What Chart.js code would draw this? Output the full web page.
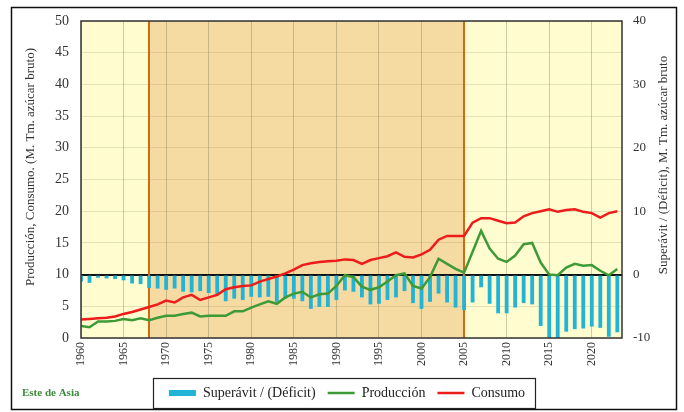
<!DOCTYPE html>
<html>
<head>
<meta charset="utf-8">
<script src="https://cdn.jsdelivr.net/npm/chart.js@4"></script>
<style>
  html, body { margin: 0; padding: 0; background: #fff; }
  canvas { display: block; }
</style>
</head>
<body>
<canvas id="sugar-chart" width="684" height="412"></canvas>
<script>
'use strict';

//  DATA (M. Tm. azucar bruto)
let years = [
  1960, 1961, 1962, 1963, 1964, 1965, 1966, 1967, 1968, 1969,
  1970, 1971, 1972, 1973, 1974, 1975, 1976, 1977, 1978, 1979,
  1980, 1981, 1982, 1983, 1984, 1985, 1986, 1987, 1988, 1989,
  1990, 1991, 1992, 1993, 1994, 1995, 1996, 1997, 1998, 1999,
  2000, 2001, 2002, 2003, 2004, 2005, 2006, 2007, 2008, 2009,
  2010, 2011, 2012, 2013, 2014, 2015, 2016, 2017, 2018, 2019,
  2020, 2021, 2022, 2023
];

let produccion = [
  1.9, 1.7, 2.6, 2.6, 2.7, 3.0, 2.8, 3.1, 2.8, 3.2,
  3.5, 3.5, 3.8, 4.0, 3.4, 3.5, 3.5, 3.5, 4.2, 4.2,
  4.8, 5.3, 5.8, 5.4, 6.4, 7.0, 7.3, 6.4, 6.9, 7.0,
  8.2, 9.9, 9.6, 8.1, 7.6, 8.0, 8.9, 9.9, 10.2, 8.2,
  7.8, 9.6, 12.5, 11.7, 10.9, 10.3, 13.6, 16.9, 14.1, 12.5,
  12.0, 13.0, 14.8, 15.0, 11.9, 10.0, 9.9, 11.1, 11.7, 11.4,
  11.5, 10.6, 9.9, 10.9
];

let consumo = [
  2.9, 3.0, 3.1, 3.2, 3.4, 3.8, 4.1, 4.5, 4.9, 5.3,
  5.9, 5.6, 6.4, 6.8, 6.0, 6.4, 6.8, 7.7, 8.0, 8.2,
  8.3, 8.9, 9.3, 9.7, 10.2, 10.8, 11.5, 11.8, 12.0, 12.1,
  12.2, 12.4, 12.3, 11.7, 12.3, 12.6, 12.9, 13.5, 12.8, 12.7,
  13.2, 13.9, 15.5, 16.1, 16.1, 16.1, 18.2, 18.9, 18.9, 18.5,
  18.1, 18.2, 19.2, 19.7, 20.0, 20.3, 19.9, 20.2, 20.3, 19.9,
  19.7, 19.0, 19.7, 20.0
];

let superavit = [
  -1.1, -1.3, -0.5, -0.6, -0.7, -0.9, -1.4, -1.5, -2.1, -2.2,
  -2.4, -2.2, -2.7, -2.8, -2.6, -2.9, -3.3, -4.2, -3.8, -4.0,
  -3.5, -3.6, -3.5, -4.3, -3.8, -3.8, -4.2, -5.4, -5.1, -5.1,
  -4.0, -2.5, -2.7, -3.6, -4.7, -4.6, -4.0, -3.6, -2.6, -4.5,
  -5.4, -4.3, -3.0, -4.4, -5.2, -5.6, -4.4, -2.0, -4.6, -6.1,
  -6.1, -5.2, -4.5, -4.7, -8.1, -10.3, -10.0, -9.0, -8.6, -8.5,
  -8.2, -8.4, -9.8, -9.1
];

// SHADED PERIOD
let periodStart = 1968;
let periodEnd = 2005;

// TEXTS
let regionLabel = 'Este de Asia';
let leftTitle = 'Producción, Consumo. (M. Tm. azúcar bruto)';
let rightTitle = 'Superávit / (Déficit), M. Tm. azúcar bruto';

// COLOURS
let paleYellow = '#FFFCCF';
let tan = '#F5DBA2';
let orangeLine = '#D06A10';
let barColor = '#22B4D6';
let greenLine = '#3D9A37';
let redLine = '#EE1B1B';

let serif = '"Liberation Serif", "Times New Roman", serif';

// PLUGIN FOR BACKGROUND BANDS, FRAME, LEGEND BOX, AXIS TITLES
let decorPlugin = {
  id: 'decor',
  beforeDraw(chart) {
    let ctx = chart.ctx;
    let a = chart.chartArea;
    let x = chart.scales.x;
    ctx.save();
    ctx.fillStyle = '#fff';
    ctx.fillRect(0, 0, chart.width, chart.height);
    ctx.fillStyle = paleYellow;
    ctx.fillRect(a.left, a.top, a.right - a.left, a.bottom - a.top);
    let x1 = x.getPixelForValue(periodStart);
    let x2 = x.getPixelForValue(periodEnd);
    ctx.fillStyle = tan;
    ctx.fillRect(x1, a.top, x2 - x1, a.bottom - a.top);
    ctx.restore();
  },
  beforeDatasetsDraw(chart) {
    let ctx = chart.ctx;
    let a = chart.chartArea;
    let x = chart.scales.x;
    ctx.save();
    ctx.strokeStyle = orangeLine;
    ctx.lineWidth = 2;
    [periodStart, periodEnd].forEach(function (yr) {
      let px = Math.round(x.getPixelForValue(yr));
      ctx.beginPath();
      ctx.moveTo(px, a.top);
      ctx.lineTo(px, a.bottom);
      ctx.stroke();
    });
    ctx.restore();
  },
  afterDraw(chart) {
    let ctx = chart.ctx;
    let a = chart.chartArea;
    ctx.save();
    // plot border
    ctx.strokeStyle = '#333';
    ctx.lineWidth = 1.5;
    ctx.strokeRect(a.left, a.top, a.right - a.left, a.bottom - a.top);
    // outer frame
    ctx.strokeStyle = '#111';
    ctx.lineWidth = 1.5;
    ctx.strokeRect(11.5, 7.5, 665, 402);
    // legend box
    let boxes = chart.legend.legendHitBoxes;
    if (boxes && boxes.length) {
      let left = Math.min.apply(null, boxes.map(b => b.left)) - 16;
      let right = Math.max.apply(null, boxes.map(b => b.left + b.width)) + 10;
      let top = boxes[0].top + boxes[0].height / 2 - 15;
      ctx.strokeStyle = '#222';
      ctx.lineWidth = 1.2;
      ctx.strokeRect(Math.round(left) + 0.5, Math.round(top) + 0.5, Math.round(right - left), 30);
    }
    // axis titles, both read bottom to top
    ctx.fillStyle = '#333';
    ctx.font = '13px ' + serif;
    ctx.textAlign = 'center';
    ctx.textBaseline = 'middle';
    let midY = 167;
    ctx.save();
    ctx.translate(31, midY);
    ctx.rotate(-Math.PI / 2);
    ctx.fillText(leftTitle, 0, 0);
    ctx.restore();
    ctx.save();
    ctx.translate(664, 165);
    ctx.rotate(-Math.PI / 2);
    ctx.fillText(rightTitle, 0, 0);
    ctx.restore();
    // region label
    ctx.fillStyle = '#3A8A3A';
    ctx.font = 'bold 11px ' + serif;
    ctx.textBaseline = 'middle';
    ctx.textAlign = 'left';
    ctx.fillText(regionLabel, 22, 393);
    ctx.restore();
  }
};

// CHART CONFIG
let chartConfig = {
  type: 'bar',
  data: {
    labels: years,
    datasets: [
      {
        type: 'bar',
        label: 'Superávit / (Déficit)',
        data: superavit,
        yAxisID: 'y2',
        backgroundColor: barColor,
        borderWidth: 0,
        barPercentage: 0.45,
        categoryPercentage: 1,
        order: 2
      },
      {
        type: 'line',
        label: 'Producción',
        data: produccion,
        yAxisID: 'y',
        borderColor: greenLine,
        backgroundColor: greenLine,
        borderWidth: 2.5,
        pointRadius: 0,
        tension: 0,
        order: 1
      },
      {
        type: 'line',
        label: 'Consumo',
        data: consumo,
        yAxisID: 'y',
        borderColor: redLine,
        backgroundColor: redLine,
        borderWidth: 2.5,
        pointRadius: 0,
        tension: 0,
        order: 0
      }
    ]
  },
  options: {
    responsive: false,
    devicePixelRatio: 1,
    animation: false,
    layout: {
      padding: { left: 20, right: 10, top: 21, bottom: 2 }
    },
    plugins: {
      tooltip: { enabled: false },
      legend: {
        position: 'bottom',
        labels: {
          usePointStyle: true,
          pointStyleWidth: 27,
          boxHeight: 6,
          padding: 12,
          color: '#222',
          font: { family: serif, size: 14 },
          sort: (a, b) => a.datasetIndex - b.datasetIndex,
          generateLabels(chart) {
            return chart.data.datasets.map(function (ds, i) {
              let isBar = ds.type === 'bar';
              return {
                text: ds.label,
                datasetIndex: i,
                fillStyle: isBar ? barColor : ds.borderColor,
                strokeStyle: isBar ? barColor : ds.borderColor,
                lineWidth: isBar ? 0 : 2.5,
                pointStyle: isBar ? 'rect' : 'line',
                fontColor: '#222',
                hidden: false
              };
            });
          }
        }
      }
    },
    scales: {
      x: {
        type: 'linear',
        min: 1960,
        max: 2023.55,
        offset: false,
        afterBuildTicks(scale) {
          scale.ticks = scale.ticks.filter(t => t.value % 5 === 0);
        },
        afterFit(scale) {
          scale.height = 36;
        },
        ticks: {
          stepSize: 5,
          autoSkip: false,
          minRotation: 90,
          maxRotation: 90,
          padding: 4,
          color: '#333',
          font: { family: serif, size: 12 },
          callback: value => String(value)
        },
        grid: {
          offset: false,
          drawTicks: false,
          color: 'rgba(120, 110, 80, 0.35)',
          lineWidth: 1
        },
        border: { display: false }
      },
      y: {
        position: 'left',
        min: 0,
        max: 50,
        afterFit(scale) {
          scale.width = 61;
        },
        ticks: {
          stepSize: 5,
          padding: 12,
          color: '#333',
          font: { family: serif, size: 14 }
        },
        grid: {
          drawTicks: false,
          color: 'rgba(140, 130, 90, 0.22)',
          lineWidth: 1
        },
        border: { display: false },
        title: { display: false }
      },
      y2: {
        position: 'right',
        min: -10,
        max: 40,
        afterFit(scale) {
          scale.width = 52;
        },
        ticks: {
          stepSize: 10,
          padding: 11,
          color: '#333',
          font: { family: serif, size: 13 }
        },
        grid: {
          drawTicks: false,
          color: ctx => (ctx.tick && ctx.tick.value === 0 ? '#111' : 'rgba(0,0,0,0)'),
          lineWidth: ctx => (ctx.tick && ctx.tick.value === 0 ? 2 : 0)
        },
        border: { display: false },
        title: { display: false }
      }
    }
  },
  plugins: [decorPlugin]
};

// RENDER
let canvasElem = document.getElementById('sugar-chart');
new Chart(canvasElem, chartConfig);
</script>
</body>
</html>
